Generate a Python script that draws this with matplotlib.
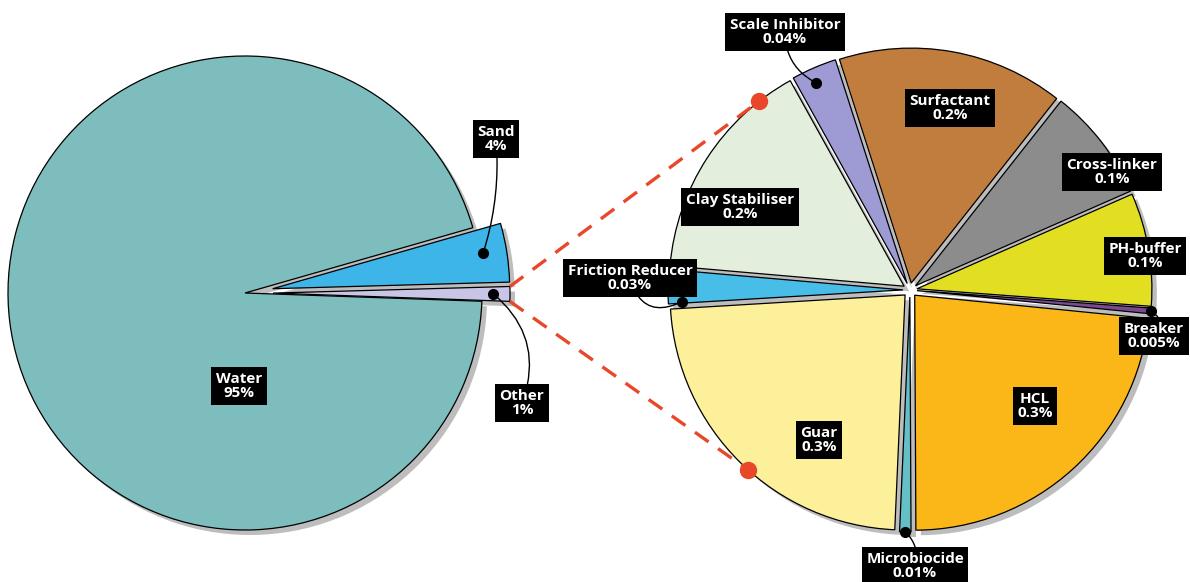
import matplotlib.pyplot as plt
import numpy as np

plt.rcParams['font.family'] = ['Open Sans', 'DejaVu Sans']

W, H = 1190, 582

# overall make-up of the fluid
main_labels = ['Water', 'Sand', 'Other']
main_values = [95, 4, 1]
main_pct = ['95%', '4%', '1%']
main_colors = ['#7dbdbd', '#3db5e8', '#c9c5e6']

# what the "Other" slice is made of
add_labels = ['Scale Inhibitor', 'Surfactant', 'Cross-linker', 'PH-buffer', 'Breaker',
              'HCL', 'Microbiocide', 'Guar', 'Friction Reducer', 'Clay Stabiliser']
add_values = [0.04, 0.2, 0.1, 0.1, 0.005, 0.3, 0.01, 0.3, 0.03, 0.2]
add_pct = ['0.04%', '0.2%', '0.1%', '0.1%', '0.005%', '0.3%', '0.01%', '0.3%', '0.03%', '0.2%']
add_colors = ['#9e9bd4', '#c07d3e', '#8c8c8c', '#e2df22', '#7b4a8e',
              '#fbb617', '#64bfc6', '#fcf09a', '#48bde8', '#e3efdc']

SHADOW = '#bdbdbd'
RED = '#e8472a'

fig = plt.figure(figsize=(W / 100, H / 100), dpi=100)
ax = fig.add_axes([0, 0, 1, 1])


def img(x, y):
    # pixel position measured from the top-left corner
    return x, H - y


def pie_with_shadow(values, colors, center, radius, start, explode):
    # explode is given in data units (pixels here), as ax.pie applies it
    cx, cy = center
    common = dict(radius=radius, startangle=start, counterclock=False,
                  explode=explode, frame=True)
    ax.pie(values, colors=[SHADOW] * len(values), center=(cx + 5, cy - 5),
           wedgeprops=dict(linewidth=0, zorder=1), **common)
    wedges, _ = ax.pie(values, colors=colors, center=(cx, cy),
                       wedgeprops=dict(edgecolor='black', linewidth=0.9, zorder=2),
                       **common)
    return wedges


def point_on(w, frac, t=0.5):
    ang = np.deg2rad(w.theta1 + t * (w.theta2 - w.theta1))
    return (w.center[0] + frac * w.r * np.cos(ang),
            w.center[1] + frac * w.r * np.sin(ang))


def rim_at(wedges, angle):
    # point on the outer arc of whichever wedge covers this angle
    for w in wedges:
        lo, hi = w.theta1 % 360, w.theta2 % 360
        a = angle % 360
        inside = lo <= a <= hi if lo <= hi else (a >= lo or a <= hi)
        if inside:
            b = np.deg2rad(angle)
            return (w.center[0] + w.r * np.cos(b), w.center[1] + w.r * np.sin(b))
    raise ValueError(angle)


box = dict(boxstyle='square,pad=0.3', fc='black', ec='none')
txt = dict(color='white', fontsize=11, fontweight='bold', ha='center',
           va='center', linespacing=1.0, zorder=6)


def label(name, pct, pos, dot=None, rad=0.0):
    s = f'{name}\n{pct}'
    if dot is None:
        ax.text(*pos, s, bbox=box, **txt)
        return
    ax.plot(*dot, 'o', color='black', ms=7, zorder=5)
    ax.annotate(s, xy=dot, xytext=pos, bbox=box, **txt,
                arrowprops=dict(arrowstyle='-', color='black', lw=1.0,
                                shrinkA=0, shrinkB=0,
                                connectionstyle=f'arc3,rad={rad}'))


# left pie
lc, lr = img(245, 293), 237
lw = pie_with_shadow(main_values, main_colors, lc, lr, -2, [0, 28, 28])

# right pie
rc, rr = img(910, 290), 235
rw = pie_with_shadow(add_values, add_colors, rc, rr, 119, [7] * len(add_values))

# dashed connectors from the "Other" slice to the breakdown
other = lw[2]
for theta, target in [(other.theta2, 128), (other.theta1, 228)]:
    a = np.deg2rad(theta)
    p0 = (other.center[0] + other.r * np.cos(a), other.center[1] + other.r * np.sin(a))
    p1 = rim_at(rw, target)
    ax.plot([p0[0], p1[0]], [p0[1], p1[1]], color=RED, lw=2.4,
            dashes=(5, 3.5), zorder=3)
    ax.plot(*p1, 'o', color=RED, ms=11.5, zorder=4)

# labels on the left pie
label(main_labels[0], main_pct[0], img(239, 386))
label(main_labels[1], main_pct[1], img(496, 139), point_on(lw[1], 0.9, 0.55), rad=-0.1)
label(main_labels[2], main_pct[2], img(522, 403), point_on(lw[2], 0.93), rad=0.35)

# labels on the right pie
right_pos = [img(785, 32), img(950, 108), img(1112, 172), img(1145, 256),
             img(1154, 336), img(1035, 406), img(915, 566), img(819, 440),
             img(630, 278), img(740, 207)]
right_dot = {0: (0.94, 0.6, 0.3), 4: (1.0, 0.5, 0.6), 6: (1.0, 0.5, 0.3),
             8: (0.94, 0.95, 0.6)}
for i, (name, pct) in enumerate(zip(add_labels, add_pct)):
    if i in right_dot:
        frac, t, rad = right_dot[i]
        label(name, pct, right_pos[i], point_on(rw[i], frac, t), rad=rad)
    else:
        label(name, pct, right_pos[i])

ax.set_xlim(0, W)
ax.set_ylim(0, H)
ax.set_aspect('equal')
ax.axis('off')

fig.savefig('out.png', dpi=100, facecolor='white')
